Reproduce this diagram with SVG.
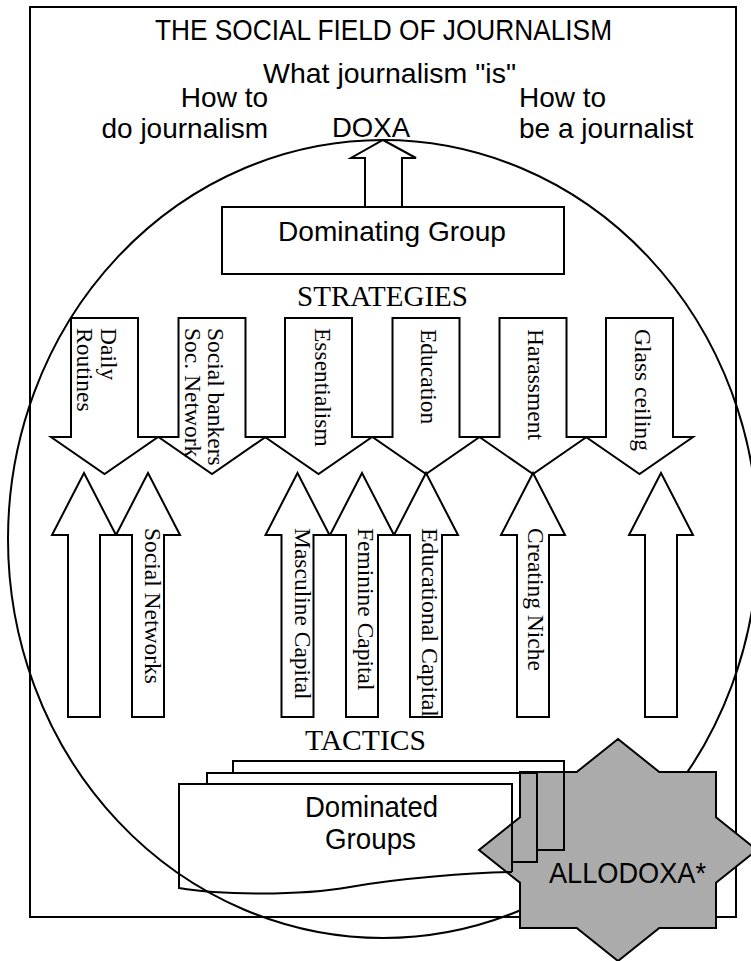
<svg xmlns="http://www.w3.org/2000/svg" width="751" height="961" viewBox="0 0 751 961">
<defs>
<style>
.ln{fill:none;stroke:#000;stroke-width:2}
.ar{fill:#fff;stroke:#000;stroke-width:2;stroke-linejoin:miter}
.sans{font-family:"Liberation Sans",Arial,sans-serif;fill:#000}
.serif{font-family:"Liberation Serif","Times New Roman",serif;fill:#000}
.lab{font-family:"Liberation Serif","Times New Roman",serif;font-size:23.5px;fill:#000}
</style>
<path id="down" d="M-33.5,0 H33.5 V119 H53.5 L0,156 L-53.5,119 H-33.5 Z"/>
<path id="up" d="M0,0 L32,62 H16 V244 H-16 V62 H-32 Z"/>
</defs>
<rect width="751" height="961" fill="#fff"/>
<g id="frame">
<rect class="ln" x="30" y="7" width="706" height="910"/>
<text class="sans" x="155" y="40" font-size="30" textLength="457" lengthAdjust="spacingAndGlyphs">THE SOCIAL FIELD OF JOURNALISM</text>
</g>
<g id="field">
<ellipse class="ln" cx="383" cy="539" rx="375" ry="399"/>
</g>
<g id="doxa-labels">
<text class="sans" x="263" y="83" font-size="28" textLength="253" lengthAdjust="spacingAndGlyphs">What journalism "is"</text>
<text class="sans" x="268" y="107" font-size="28" text-anchor="end">How to</text>
<text class="sans" x="268" y="138" font-size="28" text-anchor="end">do journalism</text>
<text class="sans" x="332" y="137" font-size="28" textLength="78" lengthAdjust="spacingAndGlyphs">DOXA</text>
<text class="sans" x="519" y="107" font-size="28">How to</text>
<text class="sans" x="519" y="138" font-size="28">be a journalist</text>
</g>
<g id="connectors">
<polygon class="ar" points="383,140 416,158 402,158 402,207 365,207 365,158 351,158"/>
</g>
<g id="dominating-group">
<rect class="ar" x="222" y="207" width="342" height="67"/>
<text class="sans" x="278" y="241" font-size="28.5" textLength="228" lengthAdjust="spacingAndGlyphs">Dominating Group</text>
</g>
<g id="strategies">
<text class="serif" x="297" y="306" font-size="28.5" textLength="171" lengthAdjust="spacingAndGlyphs">STRATEGIES</text>
<use href="#down" class="ar" transform="translate(104.5,318)"/>
<use href="#down" class="ar" transform="translate(212,318)"/>
<use href="#down" class="ar" transform="translate(318.5,318)"/>
<use href="#down" class="ar" transform="translate(426,318)"/>
<use href="#down" class="ar" transform="translate(533,318)"/>
<use href="#down" class="ar" transform="translate(639.5,318)"/>
<text class="lab" transform="translate(101,328) rotate(90)">Daily</text>
<text class="lab" transform="translate(77,328) rotate(90)">Routines</text>
<text class="lab" transform="translate(208,328) rotate(90)">Social bankers</text>
<text class="lab" transform="translate(185,328) rotate(90)">Soc. Network</text>
<text class="lab" transform="translate(315,328) rotate(90)">Essentialism</text>
<text class="lab" transform="translate(421,329) rotate(90)">Education</text>
<text class="lab" transform="translate(528,329) rotate(90)">Harassment</text>
<text class="lab" transform="translate(635,329) rotate(90)">Glass ceiling</text>
</g>
<g id="tactics">
<use href="#up" class="ar" transform="translate(84,473)"/>
<use href="#up" class="ar" transform="translate(148,473)"/>
<use href="#up" class="ar" transform="translate(297.5,473)"/>
<use href="#up" class="ar" transform="translate(362,473)"/>
<use href="#up" class="ar" transform="translate(426,473)"/>
<use href="#up" class="ar" transform="translate(533,473)"/>
<use href="#up" class="ar" transform="translate(661,473)"/>
<text class="lab" transform="translate(145,528) rotate(90)">Social Networks</text>
<text class="lab" transform="translate(295,528) rotate(90)">Masculine Capital</text>
<text class="lab" transform="translate(358,528) rotate(90)">Feminine Capital</text>
<text class="lab" transform="translate(422,528) rotate(90)" textLength="189" lengthAdjust="spacingAndGlyphs">Educational Capital</text>
<text class="lab" transform="translate(528,528) rotate(90)">Creating Niche</text>
<text class="serif" x="305" y="750" font-size="29" textLength="121" lengthAdjust="spacingAndGlyphs">TACTICS</text>
</g>
<g id="allodoxa">
<polygon points="520,772 576.7,772 618,739 659.3,772 716,772 716,817.2 757,850 716,882.8 716,928 659.3,928 618,961 576.7,928 520,928 520,882.8 479,850 520,817.2" fill="#ababab" stroke="#000" stroke-width="2"/>
<text class="sans" x="549" y="883" font-size="30" textLength="157" lengthAdjust="spacingAndGlyphs">ALLODOXA*</text>
</g>
<g id="dominated-groups">
<path class="ln" d="M233,773 V761 H564 V850 H537"/>
<path class="ln" d="M207,784 V773 H537 V862 H512"/>
<path class="ln" d="M512,872 V784 H179 V888 C220,895 300,896 350,887 S470,873 512,872"/>
<text class="sans" x="305" y="817" font-size="30" textLength="133" lengthAdjust="spacingAndGlyphs">Dominated</text>
<text class="sans" x="325" y="849" font-size="30" textLength="91" lengthAdjust="spacingAndGlyphs">Groups</text>
</g>
</svg>
